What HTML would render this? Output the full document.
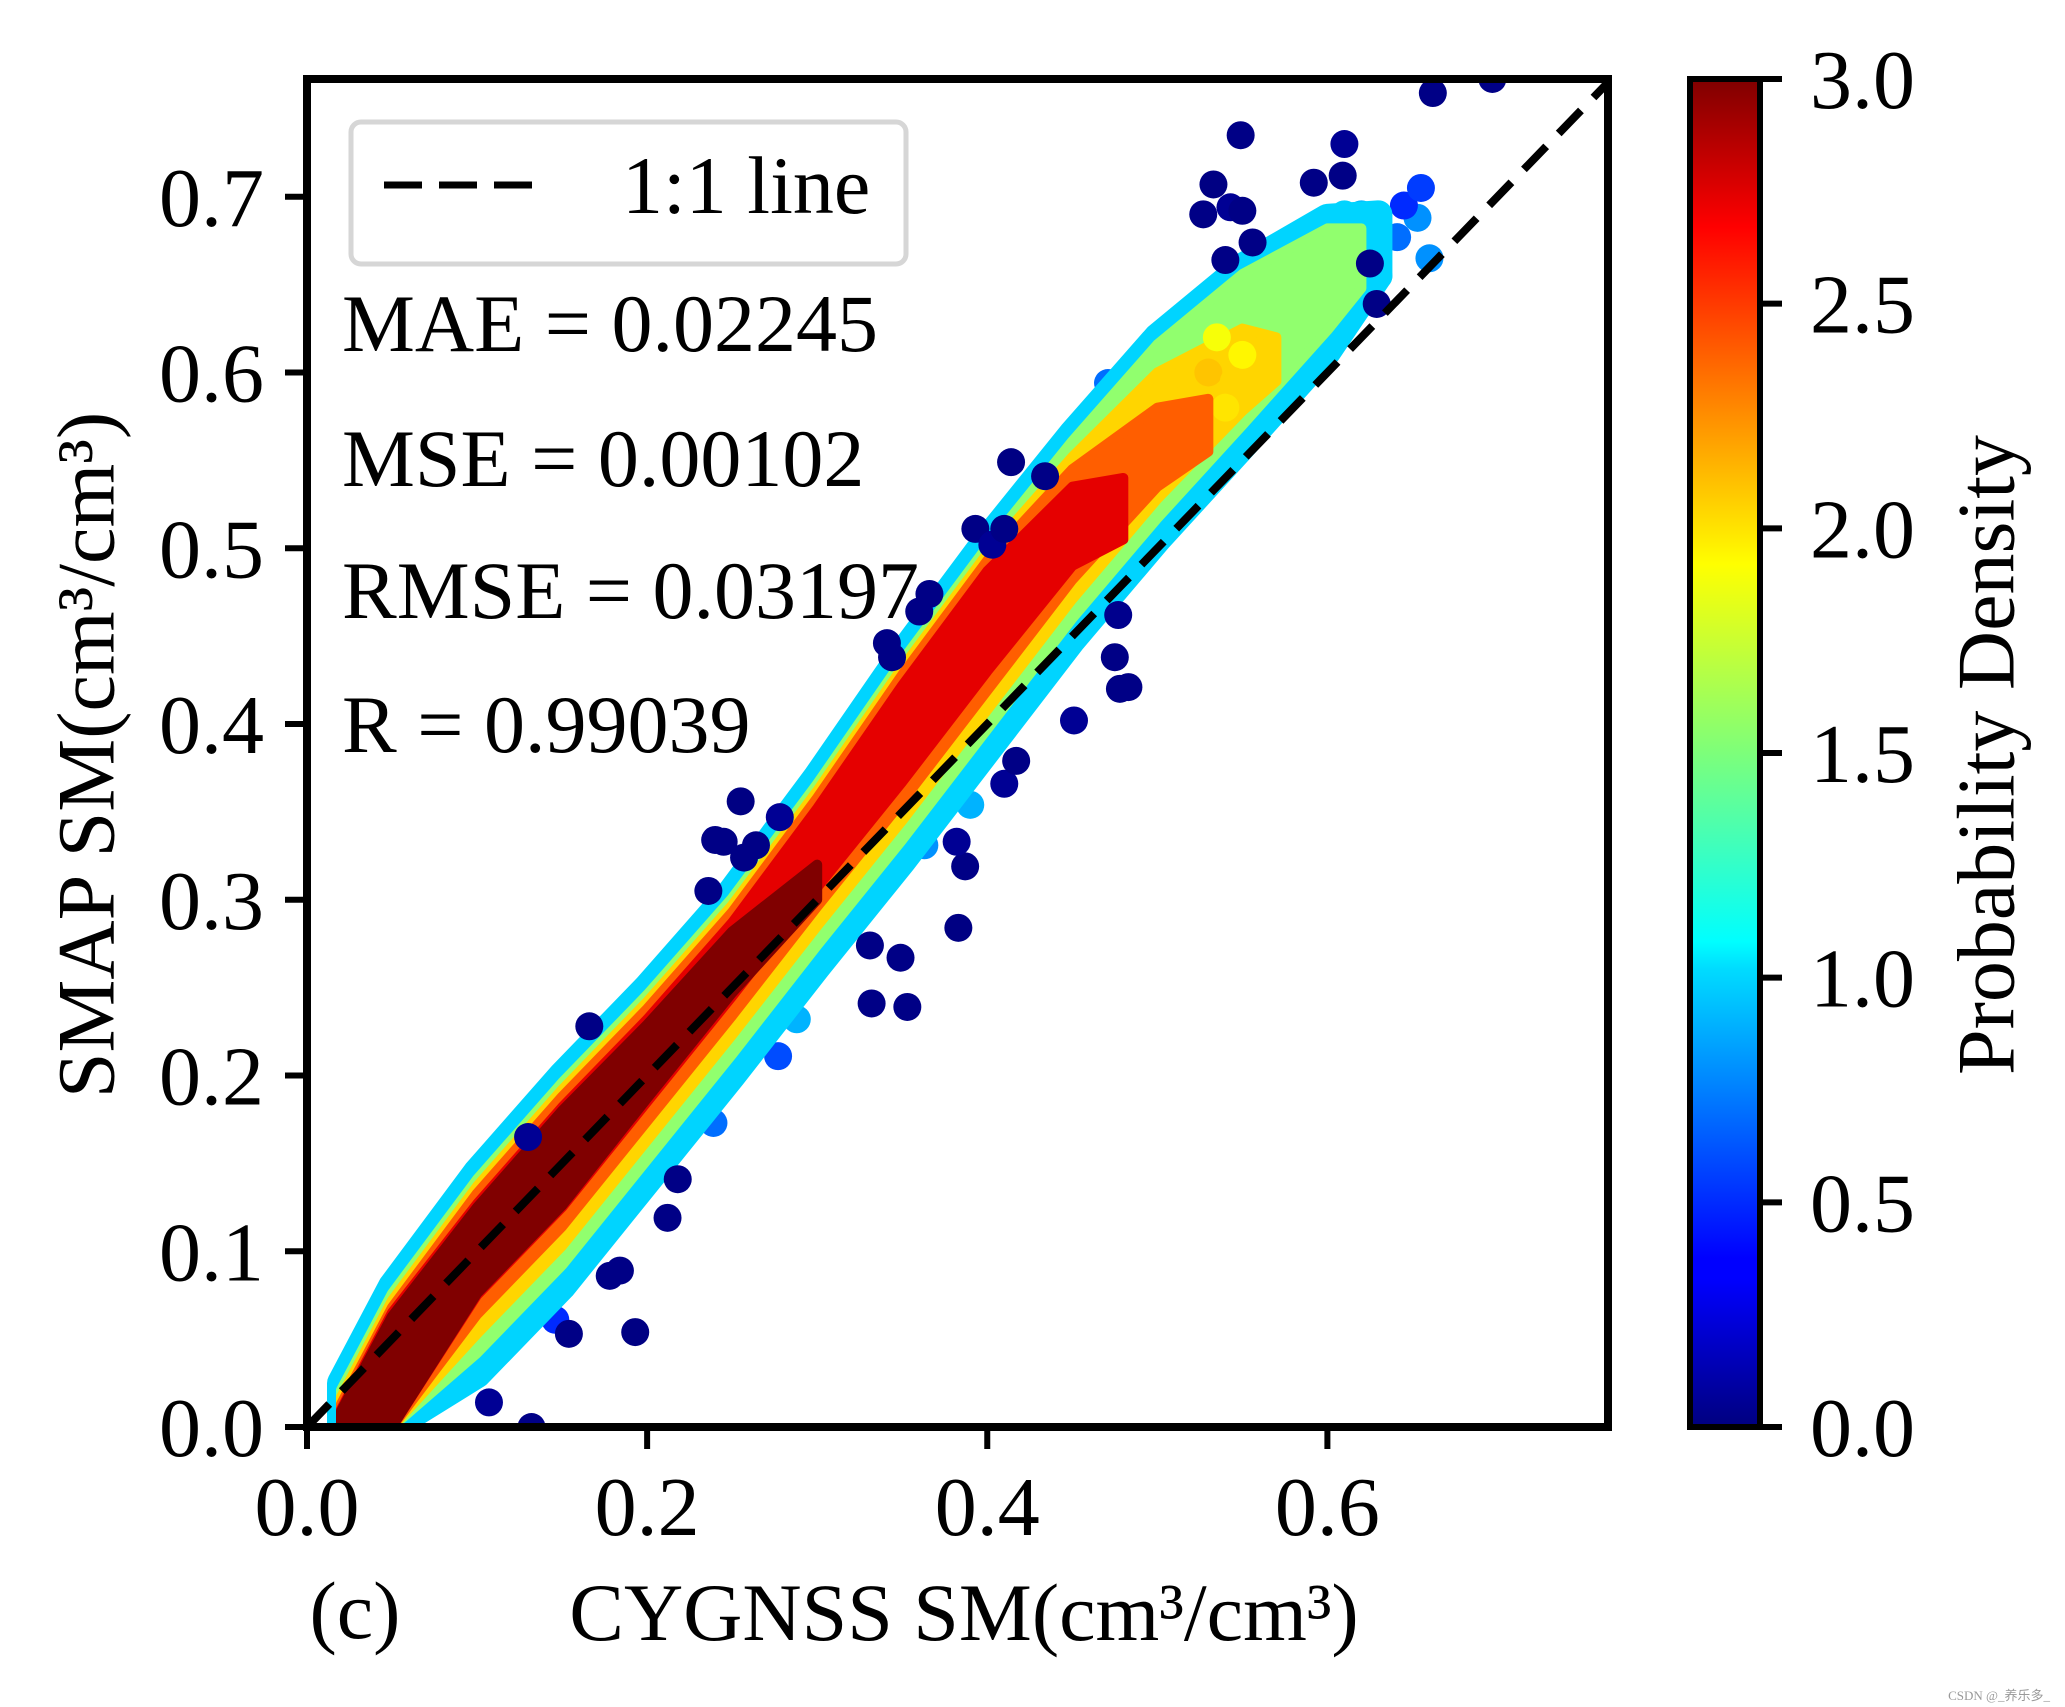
<!DOCTYPE html>
<html><head><meta charset="utf-8"><style>
html,body{margin:0;padding:0;background:#fff;}
svg{display:block;}
text{font-family:"Liberation Serif","DejaVu Serif",serif;fill:#000;}
</style></head><body>
<svg id="chart" width="2065" height="1707" viewBox="0 0 2065 1707" xmlns="http://www.w3.org/2000/svg">
<defs>
<linearGradient id="jetgrad" x1="0" y1="1" x2="0" y2="0">
<stop offset="0" stop-color="#00007f"/><stop offset="0.11" stop-color="#0000ff"/><stop offset="0.125" stop-color="#0000ff"/>
<stop offset="0.34" stop-color="#00dcff"/><stop offset="0.36" stop-color="#00ffff"/><stop offset="0.5" stop-color="#7dff7a"/>
<stop offset="0.64" stop-color="#ffff00"/><stop offset="0.66" stop-color="#ffea00"/><stop offset="0.89" stop-color="#ff0000"/>
<stop offset="1" stop-color="#7f0000"/></linearGradient>
<clipPath id="plotclip"><rect x="307" y="79" width="1301" height="1348"/></clipPath>
</defs>
<g id="plot" clip-path="url(#plotclip)"></g>
<rect x="307" y="79" width="1301" height="1348" fill="none" stroke="#000" stroke-width="8"/>
<g id="axes"></g>
<g>
<rect x="351" y="122" width="555" height="142" rx="10" fill="#fff" stroke="#d6d6d6" stroke-width="5"/>
<line x1="384" y1="185" x2="549" y2="185" stroke="#000" stroke-width="7" stroke-dasharray="38,17"/>
<text x="622" y="213" font-size="82">1:1 line</text>
</g>
<g>
<text x="342" y="351" font-size="82">MAE = 0.02245</text>
<text x="342" y="486" font-size="82">MSE = 0.00102</text>
<text x="342" y="618" font-size="82">RMSE = 0.03197</text>
<text x="342" y="752" font-size="82">R = 0.99039</text>
</g>
<text x="86" y="755" font-size="82" text-anchor="middle" transform="rotate(-90 86 755)" dominant-baseline="central">SMAP SM(cm³/cm³)</text>
<text x="964" y="1640" font-size="82" text-anchor="middle">CYGNSS SM(cm³/cm³)</text>
<text x="355" y="1638" font-size="82" text-anchor="middle">(c)</text>
<rect x="1690" y="79" width="70" height="1348" fill="url(#jetgrad)" stroke="#000" stroke-width="6"/>
<g id="cbaxis"></g>
<text x="1986" y="755" font-size="82" text-anchor="middle" transform="rotate(-90 1986 755)" dominant-baseline="central">Probability Density</text>
<text x="2050" y="1700" font-size="13" text-anchor="end" style="fill:#999">CSDN @_养乐多_</text>
</svg>
<script>
const xTicks=[0.0,0.2,0.4,0.6];
const yTicks=[0.0,0.1,0.2,0.3,0.4,0.5,0.6,0.7];
const cbTicks=[0.0,0.5,1.0,1.5,2.0,2.5,3.0];
// density bands: x samples, lower and upper y envelope
const band1X=[0.02,0.05,0.10,0.15,0.20,0.25,0.30,0.35,0.40,0.45,0.50,0.55,0.60,0.63];
const band1Lo=[0,0,0.03,0.08,0.14,0.2,0.262,0.322,0.385,0.448,0.505,0.558,0.612,0.655];
const band1Hi=[0.025,0.08,0.145,0.2,0.25,0.305,0.37,0.44,0.505,0.565,0.62,0.66,0.688,0.69];
const band2X=[0.02,0.05,0.10,0.15,0.20,0.25,0.30,0.35,0.40,0.45,0.50,0.55,0.60,0.62];
const band2Lo=[0,0,0.042,0.092,0.152,0.212,0.274,0.334,0.397,0.46,0.517,0.57,0.624,0.648];
const band2Hi=[0.021,0.076,0.141,0.196,0.246,0.301,0.366,0.436,0.501,0.561,0.616,0.656,0.682,0.682];
const band3X=[0.02,0.05,0.10,0.15,0.20,0.25,0.30,0.35,0.40,0.45,0.50,0.55,0.57];
const band3Lo=[0,0,0.053,0.103,0.163,0.223,0.285,0.345,0.408,0.471,0.528,0.578,0.595];
const band3Hi=[0.017,0.072,0.137,0.192,0.242,0.297,0.362,0.432,0.497,0.552,0.60,0.625,0.62];
const band4X=[0.02,0.05,0.10,0.15,0.20,0.25,0.30,0.35,0.40,0.45,0.50,0.53];
const band4Lo=[0,0,0.064,0.114,0.174,0.234,0.296,0.356,0.419,0.482,0.535,0.555];
const band4Hi=[0.013,0.068,0.133,0.188,0.238,0.293,0.358,0.428,0.493,0.545,0.58,0.585];
const band5X=[0.02,0.05,0.10,0.15,0.20,0.25,0.30,0.35,0.40,0.45,0.48];
const band5Lo=[0,0,0.075,0.125,0.185,0.245,0.307,0.367,0.43,0.49,0.505];
const band5Hi=[0.01,0.065,0.127,0.182,0.232,0.287,0.352,0.422,0.487,0.535,0.54];
const band6X=[0.02,0.05,0.10,0.15,0.20,0.25,0.30];
const band6Lo=[0,0,0.076,0.126,0.187,0.247,0.30];
const band6Hi=[0.009,0.063,0.125,0.18,0.229,0.282,0.32];
const bandDensity=[1.0,1.55,2.0,2.35,2.7,3.0];
// edge points (blue/cyan)
const edgeX=[0.641,0.653,0.601,0.517,0.502,0.479,0.455,0.316,0.223,0.177,0.154,0.239,0.277,0.288,0.146,0.092,0.363,0.390,0.583,0.471,0.610,0.660,0.540,0.60,0.62,0.58,0.645,0.655,0.53,0.515,0.545,0.63];
const edgeY=[0.677,0.688,0.680,0.602,0.587,0.549,0.519,0.391,0.271,0.196,0.196,0.173,0.211,0.232,0.061,0.030,0.331,0.354,0.673,0.594,0.690,0.665,0.650,0.68,0.69,0.675,0.695,0.705,0.64,0.63,0.655,0.655];
const edgeD=[0.7,0.8,0.9,0.6,0.8,0.9,1.0,0.9,1.1,0.6,0.8,0.7,0.6,0.9,0.5,0.6,0.8,0.9,1.1,0.7,1.0,0.8,1.2,0.8,0.9,0.75,0.5,0.55,0.7,0.6,0.85,0.9];
// yellow cloud
const cloudX=[0.52,0.53,0.54,0.55,0.51,0.535,0.545];
const cloudY=[0.59,0.60,0.58,0.61,0.575,0.62,0.595];
const cloudD=[2.0,2.05,1.95,1.9,2.0,1.85,2.0];
// outliers (low density)
const outX=[0.662,0.697,0.549,0.533,0.610,0.609,0.592,0.527,0.543,0.550,0.540,0.556,0.625,0.629,0.414,0.434,0.393,0.403,0.410,0.366,0.360,0.341,0.344,0.477,0.475,0.451,0.478,0.483,0.410,0.417,0.387,0.382,0.383,0.331,0.349,0.332,0.353,0.255,0.240,0.245,0.257,0.264,0.278,0.236,0.166,0.212,0.193,0.178,0.184,0.154,0.132,0.107,0.218,0.130];
const outY=[0.759,0.767,0.735,0.707,0.730,0.712,0.708,0.690,0.694,0.692,0.664,0.674,0.662,0.639,0.549,0.541,0.511,0.502,0.511,0.474,0.464,0.446,0.438,0.462,0.438,0.402,0.420,0.421,0.366,0.379,0.319,0.333,0.284,0.274,0.267,0.241,0.239,0.356,0.334,0.333,0.324,0.331,0.347,0.305,0.228,0.119,0.054,0.086,0.089,0.053,0.000,0.014,0.141,0.165];
const outD=[0.02,0.02,0.02,0.01,0.06,0.02,0.02,0.02,0.06,0.02,0.02,0.02,0.02,0.02,0.01,0.02,0.02,0.06,0.02,0.02,0.02,0.02,0.02,0.04,0.02,0.06,0.02,0.02,0.06,0.02,0.02,0.06,0.01,0.02,0.02,0.02,0.02,0.01,0.02,0.02,0.02,0.02,0.06,0.02,0.02,0.02,0.01,0.02,0.02,0.02,0.02,0.06,0.02,0.06];
const lineStart=0.0, lineEnd=0.8;

const X0=307,X1=1608,Y0=1427,Y1=79,XMAX=0.765,YMAX=0.767,R=14;
const sx=v=>X0+v/XMAX*(X1-X0);
const sy=v=>Y0-v/YMAX*(Y0-Y1);
const cy=v=>1427-v/3*(1427-79);
function jet(d){const t=Math.max(0,Math.min(1,d/3));
 const f=(a)=>Math.max(0,Math.min(1,1.5-Math.abs(4*t-a)));
 return 'rgb('+Math.round(255*f(3))+','+Math.round(255*f(2))+','+Math.round(255*f(1))+')';}
const NS='http://www.w3.org/2000/svg';
const plot=document.getElementById('plot');
function mk(tag,attrs,parent){const e=document.createElementNS(NS,tag);for(const k in attrs)e.setAttribute(k,attrs[k]);parent.appendChild(e);return e;}
const bands=[[band1X,band1Lo,band1Hi],[band2X,band2Lo,band2Hi],[band3X,band3Lo,band3Hi],[band4X,band4Lo,band4Hi],[band5X,band5Lo,band5Hi],[band6X,band6Lo,band6Hi]];
function dots(xs,ys,ds,name){for(let i=0;i<xs.length;i++){const c=mk('circle',{cx:sx(xs[i]),cy:sy(ys[i]),r:R,fill:jet(ds[i])},plot);
 
 }}
dots(edgeX,edgeY,edgeD,'edge-point');
bands.forEach((b,k)=>{const [xs,lo,hi]=b;let pts=[];
 for(let i=0;i<xs.length;i++)pts.push(sx(xs[i])+','+sy(hi[i]));
 for(let i=xs.length-1;i>=0;i--)pts.push(sx(xs[i])+','+sy(lo[i]));
 const col=jet(bandDensity[k]);
 const sw=k===0?2*R:10;
 const p=mk('polygon',{points:pts.join(' '),fill:col,stroke:col,'stroke-width':sw,'stroke-linejoin':'round'},plot);
 
 
 if(k===2)dots(cloudX,cloudY,cloudD,'cloud-point');});
dots(outX,outY,outD,'outlier-point');
const ln=mk('line',{x1:sx(lineStart),y1:sy(lineStart),x2:sx(lineEnd),y2:sy(lineEnd),stroke:'#000','stroke-width':8,'stroke-dasharray':'32,18'},plot);


const axes=document.getElementById('axes');
xTicks.forEach(v=>{const t=mk('line',{x1:sx(v),y1:Y0,x2:sx(v),y2:Y0+22,stroke:'#000','stroke-width':6},axes);
 
 
 const l=mk('text',{x:sx(v),y:1535,'font-size':84,'text-anchor':'middle'},axes);l.textContent=v.toFixed(1);
 
 });
yTicks.forEach(v=>{const t=mk('line',{x1:X0-22,y1:sy(v),x2:X0,y2:sy(v),stroke:'#000','stroke-width':6},axes);
 
 
 const l=mk('text',{x:264,y:sy(v)+29,'font-size':84,'text-anchor':'end'},axes);l.textContent=v.toFixed(1);
 
 });
const cb=document.getElementById('cbaxis');
cbTicks.forEach(v=>{const t=mk('line',{x1:1760,y1:cy(v),x2:1782,y2:cy(v),stroke:'#000','stroke-width':6},cb);
 
 
 const l=mk('text',{x:1810,y:cy(v)+29,'font-size':84},cb);l.textContent=v.toFixed(1);
 
 });
</script>
</body></html>
